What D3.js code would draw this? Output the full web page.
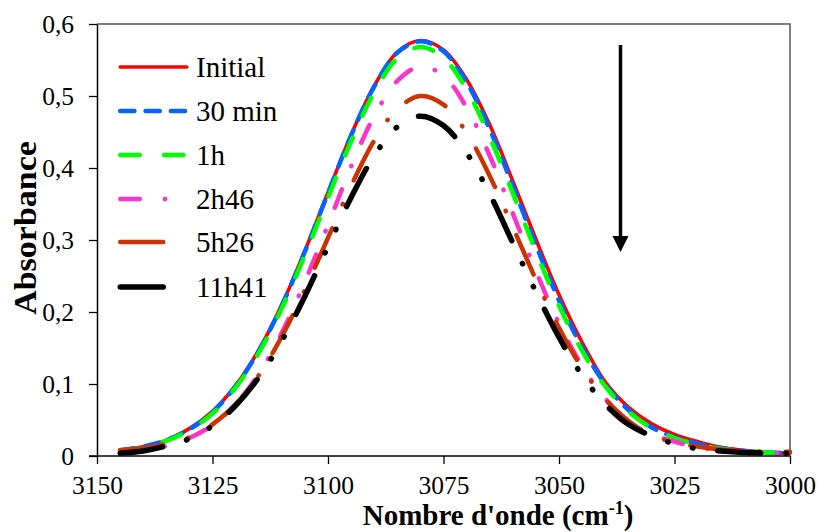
<!DOCTYPE html>
<html><head><meta charset="utf-8">
<script src="https://cdn.jsdelivr.net/npm/d3@7"></script>
<style>body{margin:0;background:#fff}svg{display:block}text{font-family:"Liberation Serif","Times New Roman",serif;fill:#000}</style>
</head><body>
<svg id="c" width="818" height="532"></svg>
<script>
// ---- data ----
const wavenumbers = [3145,3140,3135,3130,3125,3120,3115,3110,3105,3100,3095,3090,3085,3080,3075,3070,3065,3060,3055,3050,3045,3040,3035,3030,3025,3020,3015,3010,3005,3000];
const seriesNames = ["Initial","30 min","1h","2h46","5h26","11h41"];
const initial = [.008,.013,.022,.038,.062,.098,.147,.210,.285,.366,.446,.514,.561,.577,.564,.523,.460,.382,.301,.224,.158,.103,.068,.045,.030,.020,.012,.008,.005,.004];
const min30   = [.008,.013,.022,.037,.061,.097,.146,.209,.284,.365,.445,.513,.560,.576,.562,.519,.454,.375,.293,.216,.151,.100,.064,.040,.026,.017,.011,.007,.005,.004];
const h1      = [.007,.012,.021,.036,.059,.095,.143,.205,.279,.359,.437,.505,.552,.568,.553,.509,.443,.365,.284,.209,.146,.097,.062,.039,.025,.016,.010,.007,.005,.004];
const h2m46   = [.006,.009,.014,.025,.043,.072,.114,.171,.242,.321,.402,.472,.521,.541,.528,.484,.417,.337,.257,.184,.125,.080,.048,.030,.020,.012,.008,.006,.004,.004];
const h5m26   = [.008,.011,.017,.026,.044,.072,.112,.166,.231,.303,.375,.438,.482,.500,.488,.449,.389,.318,.245,.178,.122,.079,.049,.029,.019,.013,.009,.007,.006,.006];
const h11m41  = [.004,.007,.014,.024,.042,.070,.109,.160,.222,.291,.359,.417,.457,.472,.459,.421,.364,.296,.228,.165,.112,.072,.044,.028,.017,.010,.007,.005,.004,.004];
const xTicks = [3150,3125,3100,3075,3050,3025,3000];
const yTicks = [0,0.1,0.2,0.3,0.4,0.5,0.6];

// ---- styles ----
const seriesData = [initial,min30,h1,h2m46,h5m26,h11m41];
const colors = ["#ff0000","#0066ff","#00ff00","#ff33cc","#cc3300","#000000"];
const widths = [3.6,4.5,4.5,4.5,4.5,5.5];
const dashes = [null,"14.2 11.1","19.5 24.2","19.5 25 0.5 25","43 26 0.5 26","43 25 0.5 25 0.5 25"];

const svg = d3.select("#c");
const L=97,R=790,T=24,B=456;
const x = d3.scaleLinear().domain([3150,3000]).range([L,R]);
const y = d3.scaleLinear().domain([0,0.6]).range([B,T]);

// frame (top/right)
svg.append("path").attr("d",`M${L},${T}H${R}V${B}`).attr("fill","none").attr("stroke","#555").attr("stroke-width",1.5);

// series
const line = d3.line().x((d,i)=>x(wavenumbers[i])).y(d=>y(d)).curve(d3.curveCatmullRom.alpha(0.5));
seriesData.forEach((s,k)=>{
  svg.append("path").attr("d",line(s)).attr("fill","none")
    .attr("stroke",colors[k]).attr("stroke-width",widths[k])
    .attr("stroke-linecap","round").attr("stroke-linejoin","round")
    .attr("stroke-dasharray",dashes[k]);
});

// axes
const xAxis = d3.axisBottom(x).tickValues(xTicks).tickFormat(d3.format("d")).tickSize(8).tickSizeOuter(0);
const gx = svg.append("g").attr("transform",`translate(0,${B})`).call(xAxis);
gx.select(".domain").attr("stroke","#000").attr("stroke-width",1.5).attr("d",`M${L-8},0H${R}`);
gx.selectAll(".tick line").attr("stroke","#000").attr("stroke-width",1.3);
gx.selectAll(".tick text").attr("font-size",25.5).attr("font-family","Liberation Serif").attr("y",20).attr("dy","0.71em");

const fmt = d=> d===0 ? "0" : d3.format(".1f")(d).replace(".",",");
const yAxis = d3.axisLeft(y).tickValues(yTicks).tickFormat(fmt).tickSize(8).tickSizeOuter(0);
const gy = svg.append("g").attr("transform",`translate(${L},0)`).call(yAxis);
gy.select(".domain").attr("stroke","#000").attr("stroke-width",1.5);
gy.selectAll(".tick line").attr("stroke","#000").attr("stroke-width",1.3);
gy.selectAll(".tick text").attr("font-size",25.5).attr("font-family","Liberation Serif").attr("x",-23);

// axis titles
const xt = svg.append("text").attr("x",498).attr("y",525).attr("text-anchor","middle")
  .attr("font-size",29).attr("font-weight","bold");
xt.append("tspan").text("Nombre d'onde (cm");
xt.append("tspan").text("-1").attr("font-size",18).attr("dy",-11);
xt.append("tspan").text(")").attr("dy",11);

svg.append("text").attr("transform","translate(36,228) rotate(-90) scale(1,0.94)").attr("text-anchor","middle")
  .attr("font-size",34).attr("font-weight","bold").text("Absorbance");

// legend
const legY = [67,111,155,199,242,287];
seriesNames.forEach((n,k)=>{
  svg.append("line").attr("x1",120.25).attr("x2",186.75).attr("y1",legY[k]).attr("y2",legY[k])
    .attr("stroke",colors[k]).attr("stroke-width",widths[k]).attr("stroke-linecap","round")
    .attr("stroke-dasharray",dashes[k]);
  svg.append("text").attr("x",196).attr("y",legY[k]+10).attr("font-size",29).text(n);
});

// arrow
svg.append("line").attr("x1",620.5).attr("x2",620.5).attr("y1",45).attr("y2",238).attr("stroke","#000").attr("stroke-width",3.5);
svg.append("path").attr("d","M612.5,236L628.5,236L620.5,252Z").attr("fill","#000");
</script>
</body></html>
